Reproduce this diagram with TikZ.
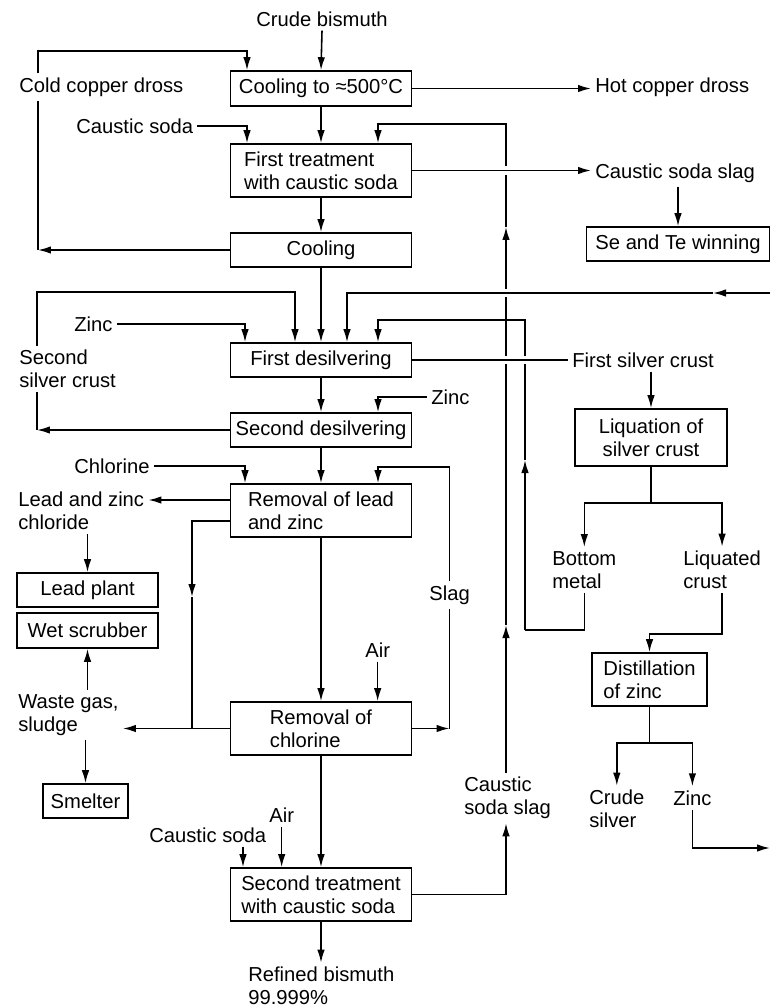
\documentclass[tikz,border=0pt]{standalone}
\usepackage{fontspec}
\setmainfont{Liberation Sans}
\usetikzlibrary{arrows.meta, calc}

\begin{document}
\begin{tikzpicture}[
    x=0.02cm, y=-0.02cm,
    line width=0.9pt,
    font=\fontsize{11.5}{13.2}\selectfont,
    unit/.style={rectangle, draw, line width=0.9pt, align=left,
                 minimum width=3.62cm, minimum height=0.68cm, inner sep=2pt},
    tall/.style={unit, minimum height=1.06cm},
    lbl/.style={inner sep=2pt, align=left, anchor=west},
    arr/.style={-{Latex[length=2.6mm, width=1.5mm]}},
    gap/.style={draw=white, line width=5pt},
  ]
    \useasboundingbox (0,0) rectangle (771,1007);

    % process units
    \node[unit, minimum height=0.7cm] (cool1) at (321,88.5) {Cooling to ≈500°C};
    \node[tall] (treat1) at (321,170.5) {First treatment\\with caustic soda};
    \node[unit] (cool2) at (321,250) {Cooling};
    \node[unit] (desil1) at (321,360) {First desilvering};
    \node[unit] (desil2) at (321,430) {Second desilvering};
    \node[tall] (remlead) at (321,510.5) {Removal of lead\\and zinc};
    \node[tall] (remcl) at (321,728.5) {Removal of\\chlorine};
    \node[tall] (treat2) at (321,894.5) {Second treatment\\with caustic soda};
    \node[unit, minimum width=3.66cm] (sete) at (678,244) {Se and Te winning};
    \node[tall, minimum width=3.04cm, minimum height=1.14cm, align=center] (liq) at (651,437.5) {Liquation of\\silver crust};
    \node[tall, minimum width=2.3cm] (dist) at (649.5,679.5) {Distillation\\of zinc};
    \node[unit, minimum width=2.82cm] (lead) at (87.5,590) {Lead plant};
    \node[unit, minimum width=2.82cm, minimum height=0.7cm] (wet) at (87.5,630.5) {Wet scrubber};
    \node[unit, minimum width=1.7cm] (smelter) at (85.5,801) {Smelter};

    % streams
    \node[lbl, anchor=center] (crude) at (322,19) {Crude bismuth};
    \node[lbl] (ccd) at (15,87) {Cold copper dross};
    \node[lbl] (hcd) at (591,87) {Hot copper dross};
    \node[lbl] (cs1) at (72,126) {Caustic soda};
    \node[lbl] (css1) at (591,173) {Caustic soda slag};
    \node[lbl] (zinc1) at (70,324) {Zinc};
    \node[lbl] (ssc) at (15,369) {Second\\silver crust};
    \node[lbl] (zinc2) at (427,397) {Zinc};
    \node[lbl] (fsc) at (568,360) {First silver crust};
    \node[lbl] (chl) at (70,466) {Chlorine};
    \node[lbl] (lzc) at (14,511) {Lead and zinc\\chloride};
    \node[lbl] (slag) at (425,595) {Slag};
    \node[lbl] (bm) at (548,570) {Bottom\\metal};
    \node[lbl] (lc) at (679,570) {Liquated\\crust};
    \node[lbl] (wgs) at (14,715) {Waste gas,\\sludge};
    \node[lbl] (air1) at (361,650) {Air};
    \node[lbl] (css2) at (460,798) {Caustic\\soda slag};
    \node[lbl] (air2) at (265,815) {Air};
    \node[lbl] (cs2) at (145,835) {Caustic soda};
    \node[lbl] (silver) at (585,809) {Crude\\silver};
    \node[lbl] (zinc3) at (669,798) {Zinc};
    \node[lbl] (rb) at (244,986) {Refined bismuth\\99.999\%};

    % main line
    \draw[arr] (crude.south) -- (cool1.north);
    \draw[arr] (cool1) -- (treat1);
    \draw[arr] (treat1) -- (cool2);
    \draw[arr] (cool2) -- (desil1);
    \draw[arr] (desil1) -- (desil2);
    \draw[arr] (desil2) -- (remlead);
    \draw[arr] (remlead) -- (remcl);
    \draw[arr] (remcl) -- (treat2);
    \draw[arr] (treat2.south) -- (treat2.south |- rb.north);

    % copper dross
    \draw[arr] (cool2.west) -- (38,250);
    \draw (38,250) -- (38,0 |- ccd.south);
    \draw[arr] (38,0 |- ccd.north) |- (247,51) -- (247,0 |- cool1.north);
    \draw[arr] (cool1.east) -- (cool1.east -| hcd.west);
    \draw[arr] (cs1.east) -| (247,0 |- treat1.north);

    % caustic soda slag back to first treatment
    \draw[arr] (treat2.east) -| (506,0 |- css2.south);
    \draw[arr] (506,0 |- css2.north) -- (506,625);
    \draw[arr] (506,625) -- (506,227);
    \draw[arr] (506,227) |- (378,124) -- (378,0 |- treat1.north);

    % bottom metal back to first desilvering
    \draw (bm.south) |- (525,630);
    \draw[arr] (525,630) -- (525,460);
    \draw[arr] (525,460) |- (378,320) -- (378,0 |- desil1.north);

    % crossings
    \draw[gap] (498,170.5) -- (514,170.5);
    \draw[gap] (498,293) -- (514,293);
    \draw[gap] (498,360) -- (533,360);

    \draw[arr] (treat1.east) -- (treat1.east -| css1.west);
    \draw[arr] (sete.north |- css1.south) -- (sete.north);
    \draw[arr] (770,293) -- (713,293);
    \draw[arr] (713,293) -| (347,0 |- desil1.north);
    \draw (desil1.east) -- (desil1.east -| fsc.west);

    % second silver crust, zinc
    \draw[arr] (desil2.west) -- (37,430);
    \draw (37,430) -- (37,0 |- ssc.south);
    \draw[arr] (37,0 |- ssc.north) |- (295,292) -- (295,0 |- desil1.north);
    \draw[arr] (zinc1.east) -| (245,0 |- desil1.north);
    \draw[arr] (zinc2.west) -| (378,0 |- desil2.north);

    % silver crust treatment
    \draw[arr] (liq.north |- fsc.south) -- (liq.north);
    \coordinate (liqfork) at (651,503);
    \draw (liq.south) -- (liqfork);
    \draw[arr] (liqfork) -| (bm.north);
    \draw[arr] (liqfork) -| (lc.north);
    \draw[arr] (lc.south) |- (dist.north |- 0,634) -- (dist.north);
    \coordinate (distfork) at (649.5,743);
    \draw (dist.south) -- (distfork);
    \draw[arr] (distfork) -| (silver.north);
    \draw[arr] (distfork) -| (zinc3.north);
    \draw[arr] (zinc3.south) |- (770,848);

    % lead and zinc removal
    \draw[arr] (chl.east) -| (245,0 |- remlead.north);
    \draw[arr] ([yshift=0.21cm]remlead.west) -- ([yshift=0.21cm]remlead.west -| lzc.east);
    \draw[arr] (lead.north |- lzc.south) -- (lead.north);
    \draw[arr] ([yshift=-0.21cm]remlead.west) -| (192,597);
    \draw (192,597) -- (192,0 |- remcl.west);
    \draw[arr] (remcl.west) -- (remcl.west -| wgs.east);
    \draw[arr] (wet.south |- wgs.north) -- (wet.south);
    \draw[arr] (smelter.north |- wgs.south) -- (smelter.north);

    % slag, air
    \draw[arr] (remcl.east) -- (remcl.east -| slag.south);
    \draw (remcl.east -| slag.south) -- (slag.south);
    \draw[arr] (slag.north) |- (378,467) -- (378,0 |- remlead.north);
    \draw[arr] (air1.south) -- (air1.south |- remcl.north);
    \draw[arr] (air2.south) -- (air2.south |- treat2.north);
    \draw[arr] (243,0 |- cs2.south) -- (243,0 |- treat2.north);
  \end{tikzpicture}
\end{document}
